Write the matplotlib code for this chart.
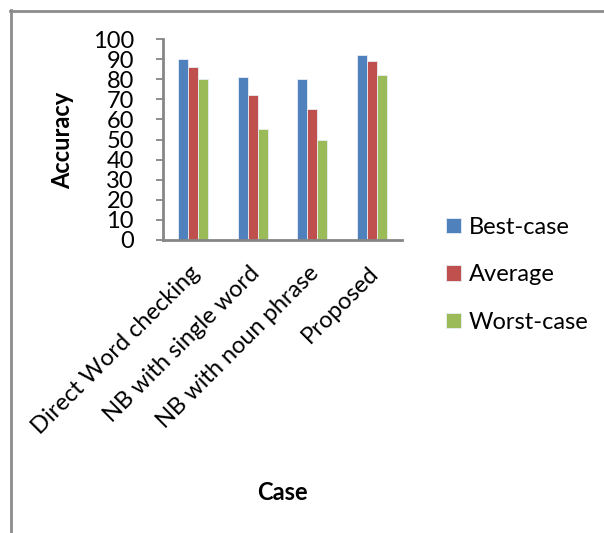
import numpy as np
import matplotlib
matplotlib.use("Agg")
import matplotlib.pyplot as plt
from matplotlib.lines import Line2D
from matplotlib.transforms import ScaledTranslation

# Datos
casos = ["Direct Word checking", "NB with single word", "NB with noun phrase", "Proposed"]
mejor = [90, 81, 80, 92]
promedio = [86, 72, 65, 89]
peor = [80, 55, 50, 82]
series = ["Best-case", "Average", "Worst-case"]
colores = ["#4F81BD", "#C0504D", "#9BBB59"]

plt.rcParams["font.family"] = ["Lato", "DejaVu Sans"]

W, H = 604, 533
fig = plt.figure(figsize=(W / 100, H / 100), dpi=100)
ax = fig.add_axes([163 / W, 1 - 240 / H, 239 / W, 201 / H])

x = np.arange(len(casos))
ancho = 0.1675
for i, (vals, nombre, c) in enumerate(zip([mejor, promedio, peor], series, colores)):
    ax.bar(x + (i - 1) * ancho, vals, ancho, color=c, label=nombre,
           edgecolor="#e8eef6", linewidth=0.6)

ax.set_xlim(-0.5, len(casos) - 0.5)
ax.set_ylim(0, 100)
ax.set_yticks(range(0, 101, 10))
ax.tick_params(axis="y", direction="out", length=5, width=1.3, color="#868686",
               labelsize=17, pad=16)
ax.tick_params(axis="x", length=0, labelsize=17, pad=16)
ax.set_xticks(x)
ax.set_xticklabels(casos, rotation=45, ha="right", rotation_mode="anchor")
# desplazar un poco las etiquetas hacia la izquierda
desplaza = ScaledTranslation(-4 / 100, 0, fig.dpi_scale_trans)
for etiqueta in ax.get_xticklabels():
    etiqueta.set_transform(etiqueta.get_transform() + desplaza)

for lado in ["top", "right"]:
    ax.spines[lado].set_visible(False)
for lado in ["left", "bottom"]:
    ax.spines[lado].set_color("#868686")
    ax.spines[lado].set_linewidth(2)

# Etiquetas de los ejes
fig.text(63 / W, 1 - 140 / H, "Accuracy", rotation=90, ha="center", va="center",
         fontsize=17, fontweight="bold")
fig.text(282 / W, 1 - 492 / H, "Case", ha="center", va="center",
         fontsize=17, fontweight="bold")

# Leyenda
fig.legend(loc="upper left", bbox_to_anchor=(446 / W, 1 - 217 / H), frameon=False,
           fontsize=17, handlelength=0.62, handleheight=0.62, handletextpad=0.35,
           labelspacing=1.12, borderaxespad=0, borderpad=0)

# Borde del área del gráfico
fig.add_artist(Line2D([10.5 / W, 10.5 / W], [0, 1 - 10 / H], color="#8c8c8c", lw=2,
                      transform=fig.transFigure))
fig.add_artist(Line2D([10 / W, 1], [1 - 10.5 / H, 1 - 10.5 / H], color="#8c8c8c", lw=2,
                      transform=fig.transFigure))

fig.savefig("out.png", dpi=100)
